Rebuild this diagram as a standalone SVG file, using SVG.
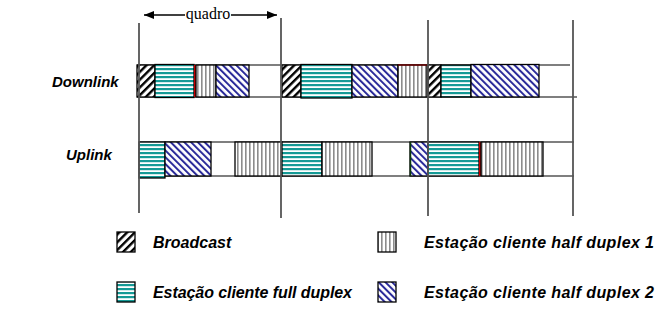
<svg xmlns="http://www.w3.org/2000/svg" width="662" height="324" viewBox="0 0 662 324">
  <style>
    .lbl { font-family: "Liberation Sans", Arial, sans-serif; font-weight: bold; font-style: italic; font-size: 15px; fill: #000; }
    .leg { font-size: 16px; }
    .quadro { font-family: "Liberation Serif", "Times New Roman", serif; font-size: 16px; fill: #000; }
    .frame { stroke: #555; stroke-width: 1.8; fill: none; }
    .row { stroke: #555; stroke-width: 1.5; fill: none; }
    .blk { stroke: #000; stroke-width: 1.3; }
    .bc { fill: url(#pBroadcast); }
    .fd { fill: url(#pFull); }
    .h1 { fill: url(#pHalf1); }
    .h2 { fill: url(#pHalf2); }
    .mark { stroke: #c00000; stroke-width: 2; }
  </style>
  <defs>
    <!-- black "/" hatching: broadcast -->
    <pattern id="pBroadcast" patternUnits="userSpaceOnUse" width="5.5" height="5.5" patternTransform="rotate(45)">
      <rect width="5.5" height="5.5" fill="#fff"/>
      <rect x="0" y="0" width="2.4" height="5.5" fill="#000"/>
    </pattern>
    <!-- teal horizontal stripes: full duplex -->
    <pattern id="pFull" patternUnits="userSpaceOnUse" width="4" height="4">
      <rect width="4" height="4" fill="#fff"/>
      <rect x="0" y="0" width="4" height="2.2" fill="#159a96"/>
    </pattern>
    <!-- gray vertical stripes: half duplex 1 -->
    <pattern id="pHalf1" patternUnits="userSpaceOnUse" width="4" height="4">
      <rect width="4" height="4" fill="#fff"/>
      <rect x="1" y="0" width="1.6" height="4" fill="#8c8c8c"/>
    </pattern>
    <!-- blue "\" hatching: half duplex 2 -->
    <pattern id="pHalf2" patternUnits="userSpaceOnUse" width="4.8" height="4.8" patternTransform="rotate(-45)">
      <rect width="4.8" height="4.8" fill="#fff"/>
      <rect x="0" y="0" width="2" height="4.8" fill="#2b2b9a"/>
    </pattern>
    <marker id="arrow" viewBox="0 0 10 8" refX="10" refY="4" markerWidth="10" markerHeight="8" markerUnits="userSpaceOnUse" orient="auto">
      <path d="M0,0 L10,4 L0,8 Z" fill="#000"/>
    </marker>
  </defs>

  <!-- frame width indicator -->
  <g id="quadro">
    <line x1="185" y1="15" x2="144" y2="15" stroke="#000" stroke-width="1.5" marker-end="url(#arrow)"/>
    <line x1="231" y1="15" x2="277" y2="15" stroke="#000" stroke-width="1.5" marker-end="url(#arrow)"/>
    <text class="quadro" x="208" y="19" text-anchor="middle">quadro</text>
  </g>

  <!-- row labels -->
  <g id="label-downlink"><text class="lbl" x="52" y="87">Downlink</text></g>
  <g id="label-uplink"><text class="lbl" x="66" y="160">Uplink</text></g>

  <!-- row guide lines -->
  <g id="rows">
    <line class="row" x1="137" y1="65" x2="570" y2="65"/>
    <line class="row" x1="137" y1="97" x2="577" y2="97"/>
    <line class="row" x1="139" y1="142" x2="574" y2="142"/>
    <line class="row" x1="139" y1="176" x2="574" y2="176"/>
  </g>

  <!-- downlink subframes -->
  <g id="downlink">
    <rect class="blk bc" x="137" y="65" width="18" height="32"/>
    <rect class="blk fd" x="155" y="64.5" width="39" height="33"/>
    <line class="mark" x1="195" y1="65" x2="195" y2="97"/>
    <rect class="blk h1" x="196" y="65" width="20" height="32"/>
    <rect class="blk h2" x="216" y="65" width="33" height="32"/>

    <rect class="blk bc" x="282" y="65" width="19" height="32"/>
    <rect class="blk fd" x="301" y="64.5" width="51" height="33.5"/>
    <rect class="blk h2" x="352" y="65" width="46" height="32"/>
    <rect class="blk h1" x="398" y="65" width="29" height="32"/>
    <line x1="398" y1="65" x2="427" y2="65" stroke="#7a0000" stroke-width="1.3"/>

    <rect class="blk bc" x="428" y="65" width="13" height="32"/>
    <rect class="blk fd" x="441" y="65" width="30" height="32"/>
    <rect class="blk h2" x="471" y="64.5" width="68" height="32.5"/>
  </g>

  <!-- uplink subframes -->
  <g id="uplink">
    <rect class="blk fd" x="139" y="142" width="26" height="36"/>
    <rect class="blk h2" x="165" y="142" width="46" height="34"/>
    <rect class="blk h1" x="235" y="142" width="47" height="34"/>

    <rect class="blk fd" x="282" y="142" width="40" height="34"/>
    <rect class="blk h1" x="322" y="142" width="50" height="34"/>
    <rect class="blk h2" x="410" y="142" width="18" height="34"/>
    <line x1="410.5" y1="142" x2="410.5" y2="176" stroke="#0a3a0a" stroke-width="1.5"/>

    <rect class="blk fd" x="428" y="142" width="51" height="34"/>
    <line class="mark" x1="480" y1="142" x2="480" y2="176"/>
    <rect class="blk h1" x="481" y="142" width="62" height="34"/>
  </g>

  <!-- frame boundaries -->
  <g id="connectors">
    <line class="frame" x1="139" y1="23" x2="139" y2="213"/>
    <line class="frame" x1="281" y1="18" x2="281" y2="218"/>
    <line class="frame" x1="428" y1="20" x2="428" y2="216"/>
    <line class="frame" x1="573" y1="20" x2="573" y2="216"/>
  </g>

  <!-- legend -->
  <g id="legend-broadcast">
    <rect class="blk bc" x="117" y="232" width="18" height="20"/>
    <text class="lbl leg" x="153" y="248">Broadcast</text>
  </g>
  <g id="legend-full-duplex">
    <rect class="blk fd" x="117" y="282" width="18" height="20"/>
    <text class="lbl leg" x="153" y="298" textLength="199" lengthAdjust="spacing">Estação cliente full duplex</text>
  </g>
  <g id="legend-half-duplex-1">
    <rect class="blk h1" x="378" y="232" width="18" height="20"/>
    <text class="lbl leg" x="424" y="248" textLength="230" lengthAdjust="spacing">Estação cliente half duplex 1</text>
  </g>
  <g id="legend-half-duplex-2">
    <rect class="blk h2" x="378" y="282" width="18" height="20" stroke="#1a1a66"/>
    <text class="lbl leg" x="424" y="298" textLength="230" lengthAdjust="spacing">Estação cliente half duplex 2</text>
  </g>
</svg>
